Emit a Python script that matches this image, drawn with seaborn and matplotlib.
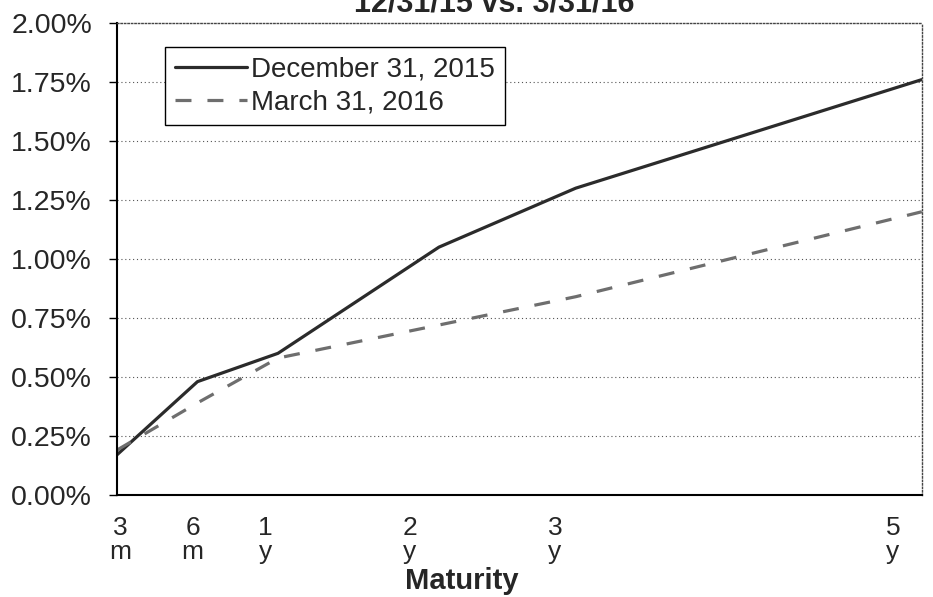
import numpy as np
import pandas as pd
import seaborn as sns
import matplotlib
matplotlib.use("Agg")
from matplotlib import pyplot as plt
from matplotlib.ticker import PercentFormatter

# maturities (scatter-style x values, as in the original spreadsheet chart)
maturity = ["3m", "6m", "1y", "2y", "3y", "5y"]
mat_x = [0, 1, 2, 4, 5.7, 10]
tick_text = ["3\nm", "6\nm", "1\ny", "2\ny", "3\ny", "5\ny"]
tick_x = [0.04, 0.94, 1.84, 3.64, 5.44, 9.64]

dec_2015 = [0.17, 0.48, 0.60, 1.05, 1.30, 1.76]
mar_2016 = [0.19, 0.39, 0.58, 0.72, 0.84, 1.20]
series = ["December 31, 2015", "March 31, 2016"]

df = pd.DataFrame({
    "x": mat_x * 2,
    "rate": dec_2015 + mar_2016,
    "curve": [series[0]] * 6 + [series[1]] * 6,
})

sns.set_style("white")
plt.rcParams["font.family"] = ["Liberation Sans", "DejaVu Sans"]

fig = plt.figure(figsize=(9.33, 5.97), dpi=100)
ax = fig.add_axes([0.1254, 0.171, 0.8626, 0.7905])

sns.lineplot(data=df, x="x", y="rate", hue="curve", style="curve",
             palette={series[0]: "#2b2b2b", series[1]: "#6e6e6e"},
             dashes={series[0]: "", series[1]: (5, 5)},
             linewidth=2.3, ax=ax, legend=True)

ax.set_xlim(0, 10)
ax.set_ylim(0, 2.0)
ax.set_yticks(np.arange(0, 2.01, 0.25))
ax.yaxis.set_major_formatter(PercentFormatter(decimals=2))
ax.set_xticks(tick_x)
ax.set_xticklabels(tick_text, linespacing=1.0)
ax.tick_params(axis="x", length=0, labelsize=19, pad=15)
ax.tick_params(axis="y", length=6, width=1, direction="out", left=True,
               labelsize=20.5, pad=12, color="black")

for y in np.arange(0.25, 2.0, 0.25):
    ax.axhline(y, color="#555555", lw=0.8, ls=(0, (1, 2.5)), zorder=0)

ax.spines["left"].set_color("black")
ax.spines["left"].set_linewidth(1.5)
ax.spines["bottom"].set_color("black")
ax.spines["bottom"].set_linewidth(1.5)
for s in ["top", "right"]:
    ax.spines[s].set_color("#444444")
    ax.spines[s].set_linewidth(1.0)
    ax.spines[s].set_linestyle((0, (1, 1.5)))

ax.set_ylabel("")
ax.set_xlabel("Maturity", fontsize=21, fontweight="bold")
ax.xaxis.set_label_coords(0.428, -0.2)
ax.xaxis.label.set_va("baseline")

leg = ax.legend(loc="upper left", bbox_to_anchor=(0.0596, 0.949), fontsize=20,
                frameon=True, fancybox=False, handlelength=2.6,
                handletextpad=0.15, borderpad=0.35, labelspacing=0.25,
                borderaxespad=0)
leg.get_frame().set_edgecolor("black")
leg.get_frame().set_linewidth(1.0)
leg.get_frame().set_alpha(1)
for line in leg.get_lines():
    line.set_linewidth(2.3)

fig.text(0.53, 1 - 12 / 597, "12/31/15 vs. 3/31/16", fontsize=22,
         fontweight="bold", ha="center", va="baseline")

fig.savefig("out.png", dpi=100)
